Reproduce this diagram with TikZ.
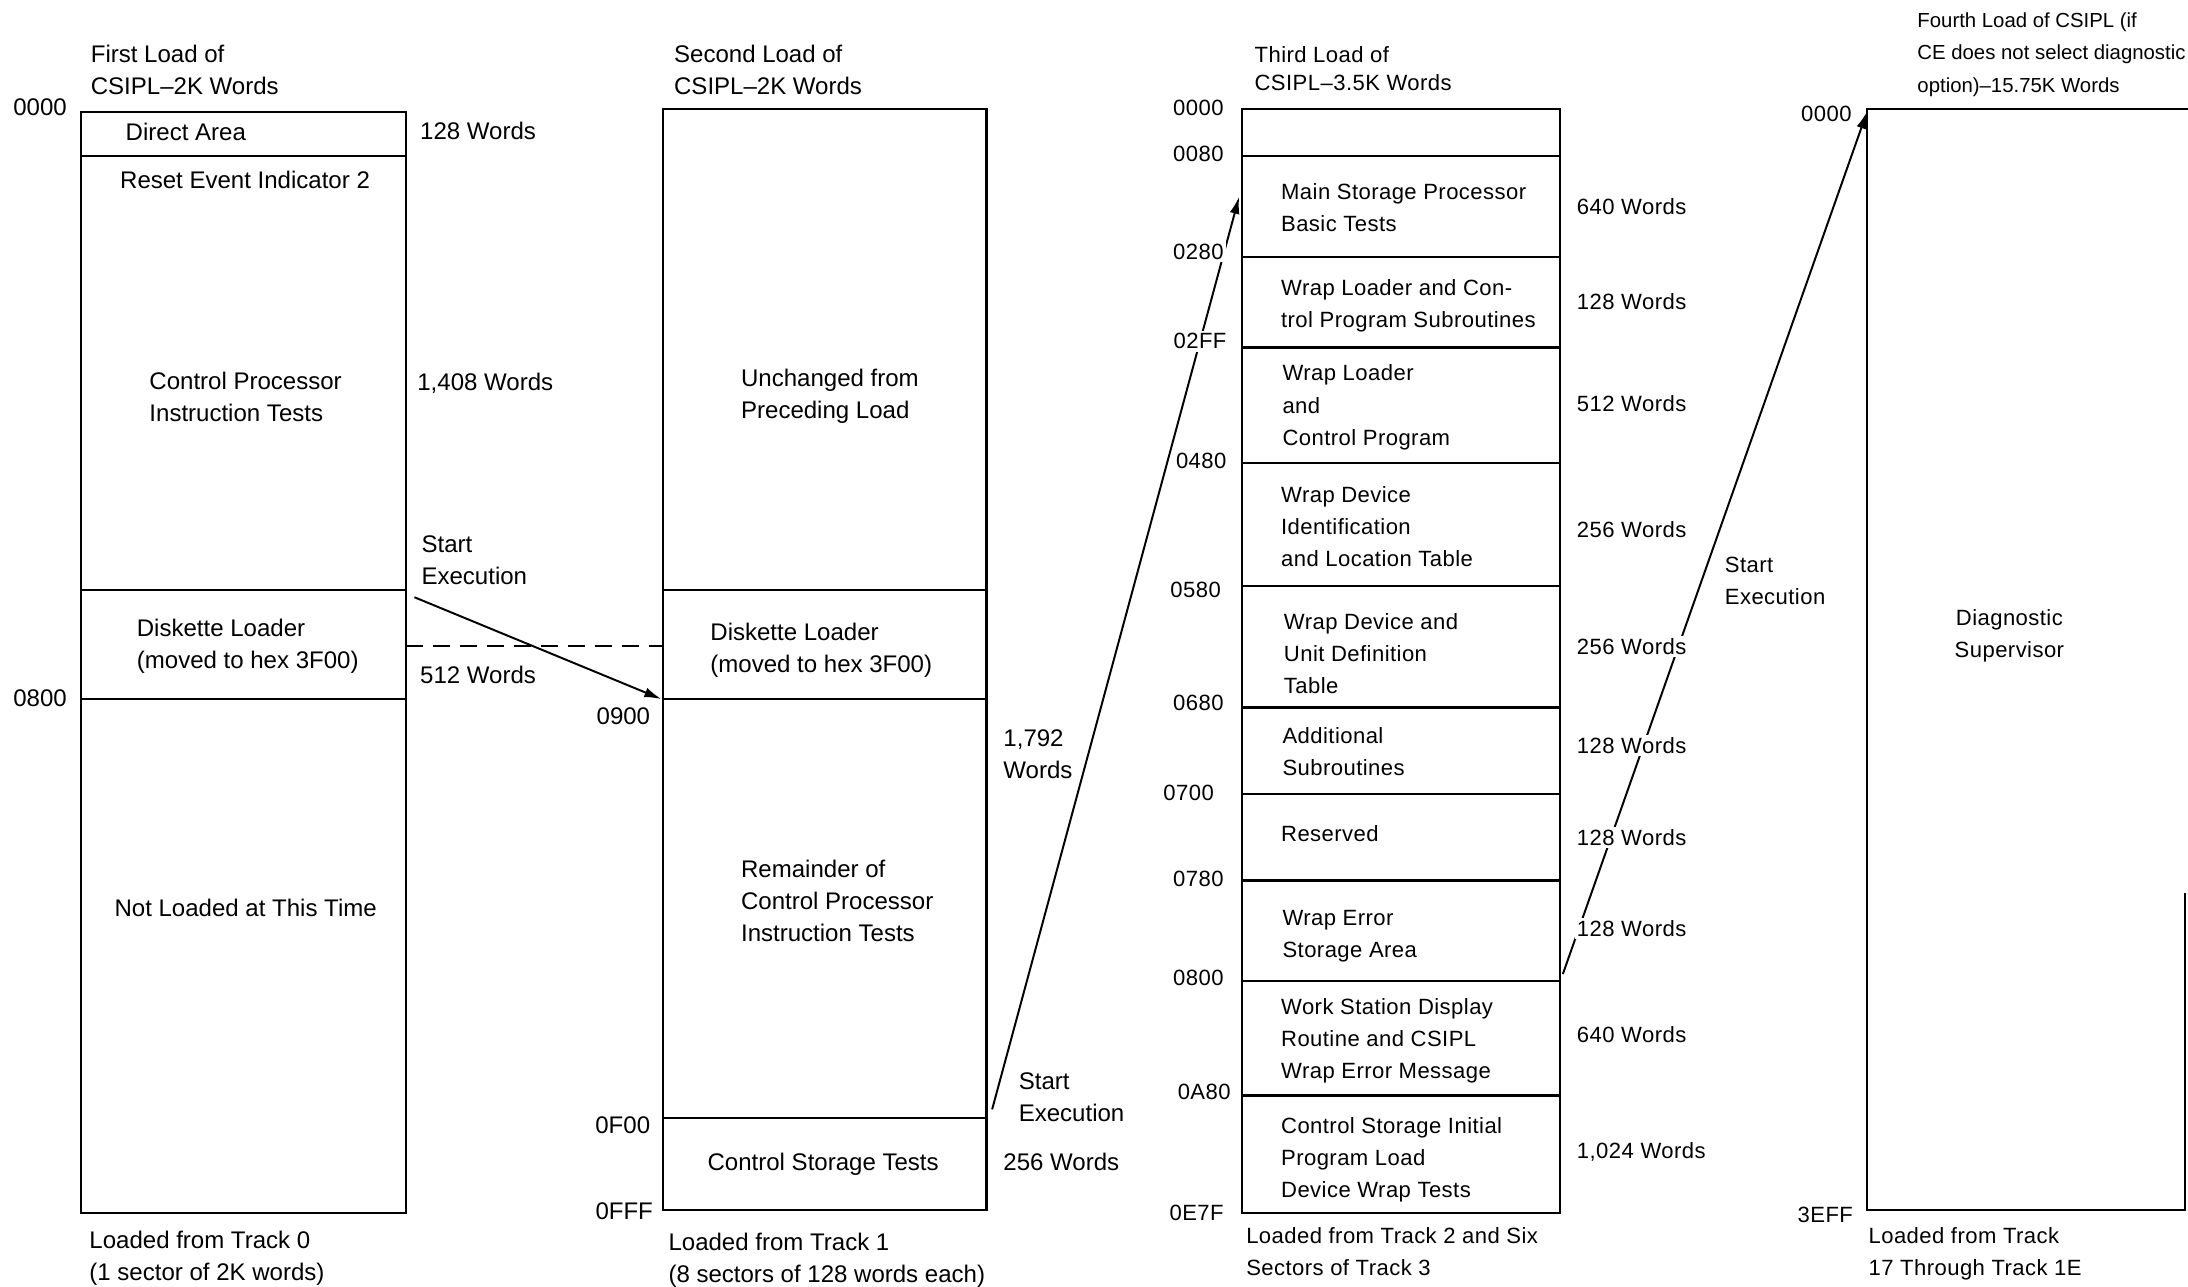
\documentclass[tikz,border=0pt]{standalone}
\usepackage{fontspec}
\setmainfont{Liberation Sans}
\newfontfamily\geofont[LetterSpace=2]{Liberation Sans}
\usetikzlibrary{arrows.meta}
\newcommand\memA{\fontsize{9.8}{13.1}\selectfont}
\newcommand\memB{\geofont\fontsize{9}{13.1}\selectfont}
\newcommand\memC{\fontsize{8.3}{13.1}\selectfont}

\begin{document}
% Multi-line labels are placed by the baseline of their last line.
\begin{tikzpicture}[x=0.02cm,y=-0.02cm,
  mem/.style={line width=0.9pt},
  txA/.style={font=\memA, align=left, inner sep=1pt, anchor=base west},
  txB/.style={font=\memB, align=left, inner sep=1pt, anchor=base west},
  addrA/.style={font=\memA, inner sep=1pt, anchor=base east, fill=white},
  addrB/.style={font=\memB, inner sep=1pt, anchor=base east, fill=white},
  wordsA/.style={txA, fill=white},
  wordsB/.style={txB, fill=white},
  flow/.style={line width=0.8pt, -{Latex[length=7pt,width=4pt]}},
  gap/.style={mem, dash pattern=on 7pt off 4pt},
]
\path[use as bounding box] (0,0) rectangle (1568,922);

% ---------- first load ----------
\draw[mem] (58,80) rectangle (291,869);
\foreach \y in {112,423,501} \draw[mem] (58,\y) -- (291,\y);

% ---------- second load ----------
\draw[mem] (475,78) rectangle (707,867);
\foreach \y in {423,501,801} \draw[mem] (475,\y) -- (707,\y);

% ---------- third load ----------
\draw[mem] (890,78) rectangle (1118,869);
\foreach \y in {112,184,249,332,420,507,569,631,703,785}
  \draw[mem] (890,\y) -- (1118,\y);

% ---------- fourth load ----------
\draw[mem] (1568,78) -- (1338,78) -- (1338,867) -- (1566,867) -- (1566,640);

% ---------- connectors ----------
\coordinate (go1) at (297,428);
\coordinate (ld2) at (474,501);
\coordinate (dl1) at (291,463);
\coordinate (dl2) at (475,463);
\coordinate (go2) at (711,795);
\coordinate (ld3) at (888,141);
\coordinate (go3) at (1120,698);
\coordinate (ld4) at (1338,80);
\draw[gap] (dl1) -- (dl2);
\draw[flow] (go1) -- (ld2);
\draw[flow] (go2) -- (ld3);
\draw[flow] (go3) -- (ld4);

% ---------- first load texts ----------
\node[txA] (h1) at (63,68) {First Load of\\CSIPL\textendash2K Words};
\node[addrA] (a10) at (50,83) {0000};
\node[addrA] (a11) at (50,506) {0800};
\node[txA] (b11) at (88,101) {Direct Area};
\node[txA] (b12) at (84,135) {Reset Event Indicator 2};
\node[txA] (b13) at (105,302) {Control Processor\\Instruction Tests};
\node[txA] (b14) at (96,479) {Diskette Loader\\(moved to hex 3F00)};
\node[txA] (b15) at (80,657) {Not Loaded at This Time};
\node[wordsA] (w11) at (299,100) {128 Words};
\node[wordsA] (w12) at (297,280) {1,408 Words};
\node[wordsA] (s1) at (300,419) {Start\\Execution};
\node[wordsA] (w13) at (299,490) {512 Words};
\node[txA] (f1) at (62,918) {Loaded from Track 0\\(1 sector of 2K words)};

% ---------- second load texts ----------
\node[txA] (h2) at (481,68) {Second Load of\\CSIPL\textendash2K Words};
\node[addrA] (a21) at (468,519) {0900};
\node[addrA] (a22) at (468,812) {0F00};
\node[addrA] (a23) at (470,874) {0FFF};
\node[txA] (b21) at (529,300) {Unchanged from\\Preceding Load};
\node[txA] (b22) at (507,482) {Diskette Loader\\(moved to hex 3F00)};
\node[txA] (b23) at (529,675) {Remainder of\\Control Processor\\Instruction Tests};
\node[txA] (b24) at (505,839) {Control Storage Tests};
\node[wordsA] (w21) at (717,558) {1,792\\Words};
\node[wordsA] (s2) at (728,804) {Start\\Execution};
\node[wordsA] (w22) at (717,839) {256 Words};
\node[txA] (f2) at (477,919) {Loaded from Track 1\\(8 sectors of 128 words each)};

% ---------- third load texts ----------
\node[txB] (h3) at (897,65) {Third Load of\\[-1.5pt]CSIPL\textendash3.5K Words};
\node[addrB] (a30) at (879,83) {0000};
\node[addrB] (a31) at (879,116) {0080};
\node[addrB] (a32) at (879,186) {0280};
\node[addrB] (a33) at (881,250) {02FF};
\node[addrB] (a34) at (881,336) {0480};
\node[addrB] (a35) at (877,428) {0580};
\node[addrB] (a36) at (879,509) {0680};
\node[addrB] (a37) at (872,574) {0700};
\node[addrB] (a38) at (879,635) {0780};
\node[addrB] (a39) at (879,706) {0800};
\node[addrB] (a3a) at (884,788) {0A80};
\node[addrB] (a3b) at (879,875) {0E7F};
\node[txB] (b31) at (916,166) {Main Storage Processor\\Basic Tests};
\node[txB] (b32) at (916,235) {Wrap Loader and Con-\\trol Program Subroutines};
\node[txB] (b33) at (917,319) {Wrap Loader\\and\\Control Program};
\node[txB] (b34) at (916,406) {Wrap Device\\Identification\\and Location Table};
\node[txB] (b35) at (918,497) {Wrap Device and\\Unit Definition\\Table};
\node[txB] (b36) at (917,556) {Additional\\Subroutines};
\node[txB] (b37) at (916,603) {Reserved};
\node[txB] (b38) at (917,686) {Wrap Error\\Storage Area};
\node[txB] (b39) at (916,773) {Work Station Display\\Routine and CSIPL\\Wrap Error Message};
\node[txB] (b3a) at (916,858) {Control Storage Initial\\Program Load\\Device Wrap Tests};
\node[wordsB] (w31) at (1128,154) {640 Words};
\node[wordsB] (w32) at (1128,222) {128 Words};
\node[wordsB] (w33) at (1128,295) {512 Words};
\node[wordsB] (w34) at (1128,385) {256 Words};
\node[wordsB] (w35) at (1128,469) {256 Words};
\node[wordsB] (w36) at (1128,540) {128 Words};
\node[wordsB] (w37) at (1128,606) {128 Words};
\node[wordsB] (w38) at (1128,671) {128 Words};
\node[wordsB] (w39) at (1128,747) {640 Words};
\node[wordsB] (w3a) at (1128,830) {1,024 Words};
\node[txB] (f3) at (891,914) {Loaded from Track 2 and Six\\Sectors of Track 3};

% ---------- fourth load texts ----------
\node[wordsB] (s3) at (1234,433) {Start\\Execution};
\node[txB, font=\memC] (h4) at (1372,66) {Fourth Load of CSIPL (if\\CE does not select diagnostic\\option)\textendash15.75K Words};
\node[addrB] (a40) at (1329,87) {0000};
\node[addrB] (a41) at (1330,876) {3EFF};
\node[txB, align=center, anchor=base] (b41) at (1440,471) {Diagnostic\\Supervisor};
\node[txB] (f4) at (1337,914) {Loaded from Track\\17 Through Track 1E};
\end{tikzpicture}
\end{document}
